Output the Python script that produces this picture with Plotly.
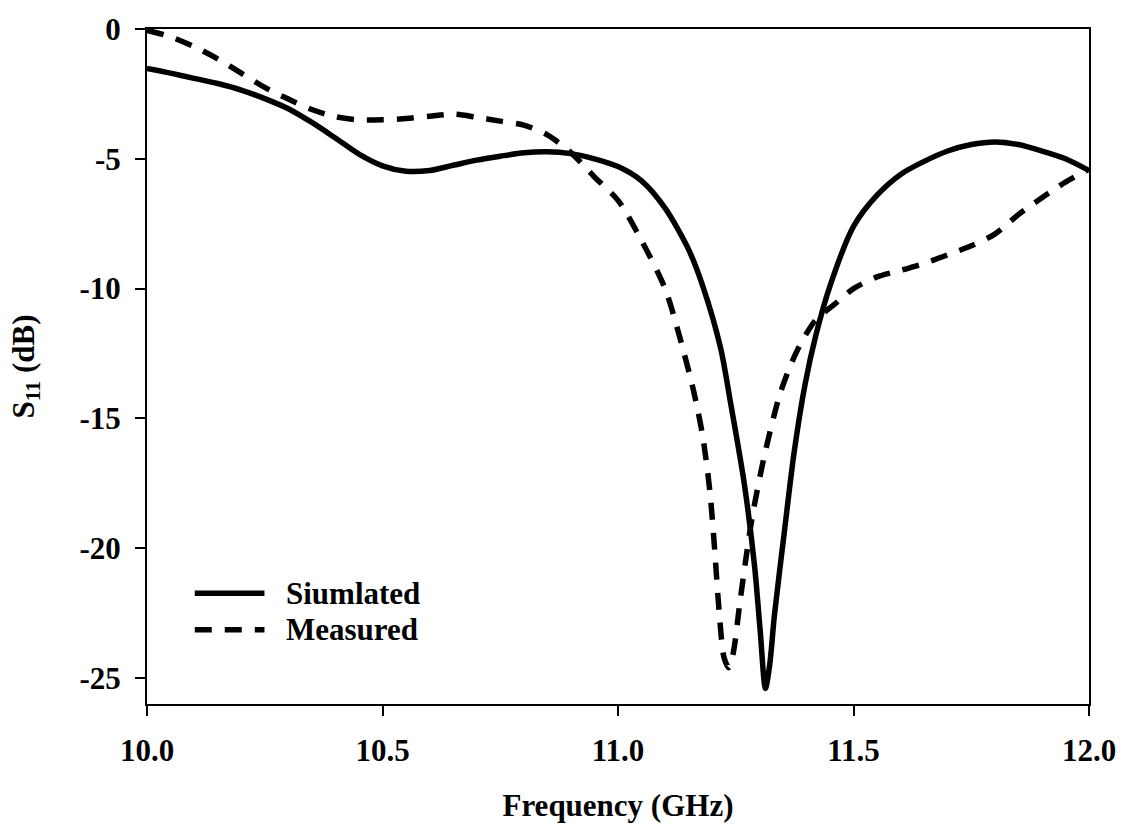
import plotly.graph_objects as go

# Simulated S11 (solid)
sim_freq = [10.0, 10.05, 10.1, 10.15, 10.2, 10.25, 10.3, 10.35, 10.4, 10.45, 10.5, 10.55,
            10.6, 10.65, 10.7, 10.75, 10.8, 10.85, 10.9, 10.95, 11.0, 11.05, 11.1, 11.15,
            11.18, 11.218, 11.239, 11.268, 11.29, 11.302, 11.313, 11.322, 11.332, 11.353,
            11.374, 11.397, 11.42, 11.45, 11.5, 11.55, 11.6, 11.65, 11.7, 11.75, 11.8,
            11.85, 11.9, 11.95, 12.0]
sim_s11 = [-1.52, -1.7, -1.9, -2.1, -2.35, -2.68, -3.07, -3.6, -4.2, -4.82, -5.27, -5.48,
           -5.45, -5.25, -5.05, -4.9, -4.77, -4.73, -4.8, -5.0, -5.3, -5.85, -6.9, -8.5,
           -9.9, -12.3, -14.4, -17.5, -20.7, -23.2, -25.4, -24.5, -22.6, -19.4,
           -16.3, -13.7, -11.8, -9.9, -7.6, -6.4, -5.6, -5.1, -4.7, -4.45, -4.35,
           -4.45, -4.7, -5.0, -5.45]

# Measured S11 (dashed)
meas_freq = [10.0, 10.05, 10.1, 10.15, 10.2, 10.25, 10.3, 10.35, 10.4, 10.45, 10.5, 10.55,
             10.6, 10.65, 10.7, 10.75, 10.8, 10.85, 10.9, 10.95, 11.0, 11.05, 11.1, 11.13,
             11.16, 11.18, 11.195, 11.205, 11.215, 11.225, 11.235, 11.245, 11.258, 11.27,
             11.285, 11.31, 11.345, 11.38, 11.42, 11.46, 11.5, 11.55, 11.6, 11.65, 11.7,
             11.75, 11.8, 11.85, 11.9, 11.95, 12.0]
meas_s11 = [-0.05, -0.3, -0.68, -1.15, -1.7, -2.25, -2.7, -3.1, -3.38, -3.5, -3.5, -3.45,
            -3.36, -3.28, -3.4, -3.55, -3.7, -4.08, -4.76, -5.7, -6.6, -8.15, -10.0, -11.8,
            -13.9, -15.7, -17.8, -20.0, -22.5, -24.2, -24.6, -24.0, -22.2, -20.6,
            -18.8, -16.5, -14.0, -12.4, -11.2, -10.6, -10.0, -9.55, -9.3, -9.03, -8.7,
            -8.35, -7.9, -7.15, -6.5, -5.9, -5.4]

x_ticks = [10.0, 10.5, 11.0, 11.5, 12.0]
x_tick_labels = ["10.0", "10.5", "11.0", "11.5", "12.0"]
y_ticks = [0, -5, -10, -15, -20, -25]
y_tick_labels = ["0", "-5", "-10", "-15", "-20", "-25"]
series_names = ["Siumlated", "Measured"]

FONT = "Liberation Serif"
FS = 31
DASH = "17px,13px"

fig = go.Figure()
fig.add_trace(go.Scatter(x=sim_freq, y=sim_s11, mode="lines", name=series_names[0],
                         line=dict(color="black", width=5.5, shape="spline", smoothing=0.8),
                         showlegend=False))
fig.add_trace(go.Scatter(x=meas_freq, y=meas_s11, mode="lines", name=series_names[1],
                         line=dict(color="black", width=5.5, dash=DASH, shape="spline", smoothing=0.8),
                         showlegend=False))

# Legend drawn manually (long line samples)
leg_y = [0.1642, 0.110]
for i, (yy, dash) in enumerate(zip(leg_y, ["solid", DASH])):
    fig.add_shape(type="line", xref="paper", yref="paper", x0=0.0507, x1=0.1247, y0=yy, y1=yy,
                  line=dict(color="black", width=5.5, dash=dash))
    fig.add_annotation(xref="paper", yref="paper", x=0.1459, y=yy, text="<b>%s</b>" % series_names[i],
                       showarrow=False, xanchor="left", yanchor="middle",
                       font=dict(family=FONT, size=FS, color="black"))

fig.update_layout(
    width=1128, height=829,
    margin=dict(l=147, r=35, t=23, b=124),
    paper_bgcolor="white", plot_bgcolor="white",
    font=dict(family=FONT, color="black"),
)
fig.update_xaxes(range=[10.0, 12.0], tickvals=x_ticks, ticktext=["<b>%s</b>" % t for t in x_tick_labels],
                 ticks="outside", ticklen=10, tickwidth=2, tickcolor="black",
                 showline=True, linewidth=2, linecolor="black", mirror=True,
                 showgrid=False, zeroline=False, tickfont=dict(family=FONT, size=FS),
                 ticklabelstandoff=8,
                 title=dict(text="<b>Frequency (GHz)</b>", font=dict(family=FONT, size=FS), standoff=27))
fig.update_yaxes(range=[-26, 0], tickvals=y_ticks, ticktext=["<b>%s</b>" % t for t in y_tick_labels],
                 ticks="outside", ticklen=10, tickwidth=2, tickcolor="black",
                 showline=True, linewidth=2, linecolor="black", mirror=True,
                 showgrid=False, zeroline=False, tickfont=dict(family=FONT, size=FS),
                 ticklabelstandoff=8,
                 title=dict(text="<b>S<sub>11</sub> (dB)</b>", font=dict(family=FONT, size=FS), standoff=36))

fig.write_html("out.html")
